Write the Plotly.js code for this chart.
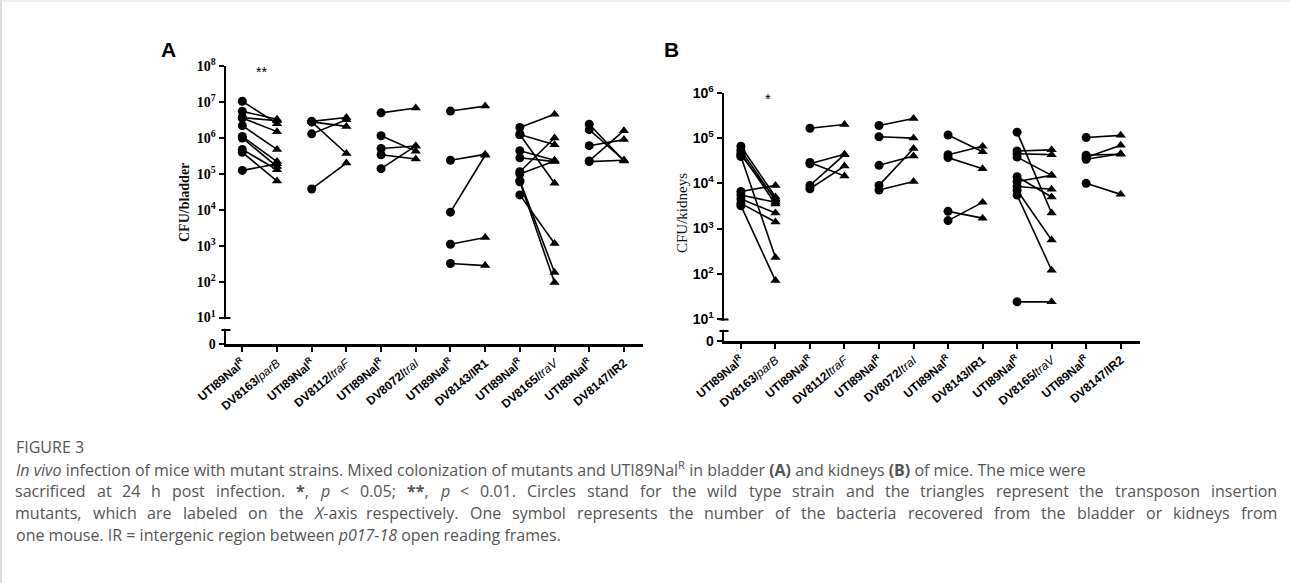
<!DOCTYPE html>
<html>
<head>
<meta charset="utf-8">
<script src="https://cdn.plot.ly/plotly-3.0.1.min.js"></script>
<style>html,body{margin:0;padding:0;background:#fff;}#chart{width:1290px;height:583px;}</style>
</head>
<body>
<div id="chart"></div>
<script>
// ---- categories / tick labels ----
const WT = 'UTI89Nal<sup>R</sup>';
const categories = [
  WT, 'DV8163/<span style="font-weight:normal"><i>parB</i></span>',
  WT, 'DV8112/<span style="font-weight:normal"><i>traF</i></span>',
  WT, 'DV8072/<span style="font-weight:normal"><i>traI</i></span>',
  WT, 'DV8143/IR1',
  WT, 'DV8165/<span style="font-weight:normal"><i>traV</i></span>',
  WT, 'DV8147/IR2'
];

// ---- Panel A: CFU/bladder (wild type circle -> mutant triangle, one pair per mouse) ----
const bladder_parB_wt  = [1.05e7, 5.5e6, 3.7e6, 3.6e6, 2.2e6, 1.1e6, 1.0e6, 4.8e5, 4.0e5, 1.25e5];
const bladder_parB_mut = [2.5e6, 3.3e6, 3.0e6, 1.5e6, 4.8e5, 2.2e5, 1.6e5, 1.3e5, 6.3e4, 1.9e5];
const bladder_traF_wt  = [2.9e6, 2.8e6, 2.8e6, 1.3e6, 3.8e4];
const bladder_traF_mut = [3.7e6, 2.1e6, 3.7e5, 3.2e6, 2.0e5];
const bladder_traI_wt  = [5.0e6, 1.15e6, 5.1e5, 3.4e5, 1.4e5];
const bladder_traI_mut = [6.8e6, 4.3e5, 6.0e5, 2.6e5, 6.0e5];
const bladder_IR1_wt   = [5.6e6, 2.4e5, 8.6e3, 1.1e3, 3.2e2];
const bladder_IR1_mut  = [7.7e6, 3.5e5, 3.3e5, 1.7e3, 2.8e2];
const bladder_traV_wt  = [1.95e6, 1.25e6, 1.25e6, 4.4e5, 2.8e5, 1.15e5, 1.0e5, 6.5e4, 6.0e4, 2.6e4];
const bladder_traV_mut = [4.6e6, 6.5e5, 5.5e4, 2.4e5, 2.2e5, 1.0e6, 2.3e5, 1.8e2, 9.5e1, 1.15e3];
const bladder_IR2_wt   = [2.4e6, 1.7e6, 6.1e5, 2.3e5, 2.2e5];
const bladder_IR2_mut  = [2.3e5, 2.4e5, 9.0e5, 1.6e6, 2.4e5];

// ---- Panel B: CFU/kidneys ----
const kidney_parB_wt  = [6.6e4, 5.4e4, 4.6e4, 3.9e4, 6.6e3, 5.5e3, 4.5e3, 3.6e3, 3.2e3, 4.2e4];
const kidney_parB_mut = [5.0e3, 4.2e3, 3.5e3, 2.3e2, 9.0e3, 3.8e3, 2.2e3, 1.4e3, 7.1e1, 4.5e3];
const kidney_traF_wt  = [1.65e5, 2.9e4, 2.7e4, 9.0e3, 7.6e3];
const kidney_traF_mut = [2.0e5, 1.45e4, 4.4e4, 4.3e4, 2.4e4];
const kidney_traI_wt  = [1.9e5, 1.07e5, 2.5e4, 9.0e3, 7.1e3];
const kidney_traI_mut = [2.7e5, 1.0e5, 4.0e4, 5.9e4, 1.1e4];
const kidney_IR1_wt   = [1.17e5, 4.3e4, 3.7e4, 2.4e3, 1.5e3];
const kidney_IR1_mut  = [5.0e4, 6.6e4, 2.1e4, 1.7e3, 3.8e3];
const kidney_traV_wt  = [1.35e5, 5.2e4, 4.5e4, 3.8e4, 1.4e4, 1.1e4, 8.5e3, 7.0e3, 5.5e3, 2.4e1];
const kidney_traV_mut = [2.2e3, 5.5e4, 4.3e4, 1.5e4, 5.0e3, 1.5e4, 7.4e3, 5.6e2, 1.2e2, 2.4e1];
const kidney_IR2_wt   = [1.03e5, 4.2e4, 3.7e4, 3.4e4, 1.0e4];
const kidney_IR2_mut  = [1.15e5, 4.4e4, 6.9e4, 4.5e4, 5.7e3];

const bladderGroups = [
  [bladder_parB_wt, bladder_parB_mut], [bladder_traF_wt, bladder_traF_mut],
  [bladder_traI_wt, bladder_traI_mut], [bladder_IR1_wt, bladder_IR1_mut],
  [bladder_traV_wt, bladder_traV_mut], [bladder_IR2_wt, bladder_IR2_mut]
];
const kidneyGroups = [
  [kidney_parB_wt, kidney_parB_mut], [kidney_traF_wt, kidney_traF_mut],
  [kidney_traI_wt, kidney_traI_mut], [kidney_IR1_wt, kidney_IR1_mut],
  [kidney_traV_wt, kidney_traV_mut], [kidney_IR2_wt, kidney_IR2_mut]
];

const bladderTicks = [10**0.27, 1e1, 1e2, 1e3, 1e4, 1e5, 1e6, 1e7, 1e8];
const bladderTickText = ['0','10<sup>1</sup>','10<sup>2</sup>','10<sup>3</sup>','10<sup>4</sup>','10<sup>5</sup>','10<sup>6</sup>','10<sup>7</sup>','10<sup>8</sup>'];
const kidneyTicks = [10**0.52, 1e1, 1e2, 1e3, 1e4, 1e5, 1e6];
const kidneyTickText = ['0','10<sup>1</sup>','10<sup>2</sup>','10<sup>3</sup>','10<sup>4</sup>','10<sup>5</sup>','10<sup>6</sup>'];

// ---- helpers ----
const W = 1290, H = 583;
const px = v => v / W;
const py = v => 1 - v / H;

const traces = [];
function addPairs(groups, xa, ya) {
  groups.forEach((g, gi) => {
    const [wt, mut] = g;
    wt.forEach((v, i) => {
      traces.push({
        type: 'scatter', mode: 'lines+markers',
        x: [2 * gi, 2 * gi + 1], y: [v, mut[i]],
        xaxis: xa, yaxis: ya,
        line: {color: '#000', width: 1.6},
        marker: {color: '#000', size: 9, opacity: 1, symbol: ['circle', 'triangle-up'], line: {width: 0}},
        showlegend: false, hoverinfo: 'skip', cliponaxis: false
      });
    });
  });
}
addPairs(bladderGroups, 'x', 'y');
addPairs(kidneyGroups, 'x2', 'y2');

const tickIdx = categories.map((_, i) => i);
const xBase = {
  tickmode: 'array', tickvals: tickIdx, ticktext: categories,
  tickangle: -40, showline: true, linecolor: '#000', linewidth: 2.5,
  ticks: 'outside', ticklen: 5, tickwidth: 2, tickcolor: '#000',
  showgrid: false, zeroline: false,
  tickfont: {family: 'Liberation Sans, Arial, sans-serif', size: 12, color: '#000', weight: 'bold'}
};
const yBase = {
  type: 'log', tickmode: 'array', showline: true, linecolor: '#000', linewidth: 2.5,
  ticks: 'outside', ticklen: 5, tickwidth: 2, tickcolor: '#000',
  showgrid: false, zeroline: false
};

function breakShapes(axX, yTop, yBot) {
  const c = '#000';
  return [
    {type: 'rect', xref: 'paper', yref: 'paper', x0: px(axX - 4), x1: px(axX + 4), y0: py(yBot - 1.2), y1: py(yTop + 1.2),
      fillcolor: '#fff', line: {width: 0}, layer: 'above'},
    {type: 'line', xref: 'paper', yref: 'paper', x0: px(axX - 4.5), x1: px(axX + 4.5), y0: py(yTop), y1: py(yTop),
      line: {color: c, width: 2}, layer: 'above'},
    {type: 'line', xref: 'paper', yref: 'paper', x0: px(axX - 4.5), x1: px(axX + 4.5), y0: py(yBot), y1: py(yBot),
      line: {color: c, width: 2}, layer: 'above'}
  ];
}

// ---- caption ----
const CAP_FAMILY = 'Open Sans';
const CAP_SIZE = 16;
const capFont = {family: CAP_FAMILY + ', Roboto, sans-serif', size: CAP_SIZE, color: '#555'};
const captionLines = [
  '<i>In vivo</i> infection of mice with mutant strains. Mixed colonization of mutants and UTI89Nal<sup>R</sup> in bladder <b>(A)</b> and kidneys <b>(B)</b> of mice. The mice were',
  'sacrificed at 24 h post infection. <b>*</b>, <i>p</i> &lt; 0.05; <b>**</b>, <i>p</i> &lt; 0.01. Circles stand for the wild type strain and the triangles represent the transposon insertion',
  'mutants, which are labeled on the <i>X</i>-axis respectively. One symbol represents the number of the bacteria recovered from the bladder or kidneys from',
  'one mouse. IR = intergenic region between <i>p017-18</i> open reading frames.'
];
const captionJustify = [false, true, true, false];
const captionY = [469, 491, 513, 535];
const CAP_LEFT = 14, CAP_RIGHT = 1276;

const canvas = document.createElement('canvas');
const ctx = canvas.getContext('2d');
function measure(word) {
  const plain = word.replace(/<sup>.*?<\/sup>/g, 'R').replace(/<[^>]+>/g, '').replace(/&lt;/g, '<');
  const italic = /<i>/.test(word), bold = /<b>/.test(word);
  ctx.font = (italic ? 'italic ' : '') + (bold ? 'bold ' : '') + CAP_SIZE + 'px "' + CAP_FAMILY + '"';
  return ctx.measureText(plain).width;
}

const annotations = [
  {text: '<b>A</b>', xref: 'paper', yref: 'paper', x: px(168), y: py(50), xanchor: 'center', yanchor: 'middle', showarrow: false,
    font: {family: 'Liberation Sans, Arial, sans-serif', size: 21, color: '#000'}},
  {text: '<b>B</b>', xref: 'paper', yref: 'paper', x: px(671), y: py(50), xanchor: 'center', yanchor: 'middle', showarrow: false,
    font: {family: 'Liberation Sans, Arial, sans-serif', size: 21, color: '#000'}},
  {text: '<b>CFU/bladder</b>', xref: 'paper', yref: 'paper', x: px(185), y: py(203), xanchor: 'center', yanchor: 'middle', textangle: -90, showarrow: false,
    font: {family: 'Liberation Serif, Times New Roman, serif', size: 14, color: '#111'}},
  {text: 'CFU/kidneys', xref: 'paper', yref: 'paper', x: px(682), y: py(213), xanchor: 'center', yanchor: 'middle', textangle: -90, showarrow: false,
    font: {family: 'Liberation Serif, Times New Roman, serif', size: 15, color: '#111'}},
  {text: '**', xref: 'x', yref: 'paper', x: 0.55, y: py(72), xanchor: 'center', yanchor: 'middle', showarrow: false,
    font: {family: 'Liberation Sans, Arial, sans-serif', size: 14, color: '#000'}},
  {text: '*', xref: 'x2', yref: 'paper', x: 0.78, y: py(99), xanchor: 'center', yanchor: 'middle', showarrow: false,
    font: {family: 'Liberation Sans, Arial, sans-serif', size: 15, color: '#000'}},
  {text: 'FIGURE 3', xref: 'paper', yref: 'paper', x: px(14), y: py(447), xanchor: 'left', yanchor: 'middle', showarrow: false,
    font: {family: CAP_FAMILY + ', Roboto, sans-serif', size: 16, color: '#555'}}
];

captionLines.forEach((t, i) => {
  if (!captionJustify[i]) {
    annotations.push({text: t, xref: 'paper', yref: 'paper', x: px(CAP_LEFT), y: py(captionY[i]),
      xanchor: 'left', yanchor: 'middle', showarrow: false, font: capFont});
    return;
  }
  const words = t.split(' ');
  const widths = words.map(measure);
  const total = widths.reduce((a, b) => a + b, 0);
  const gap = (CAP_RIGHT - CAP_LEFT - total) / (words.length - 1);
  let x = CAP_LEFT;
  words.forEach((w, k) => {
    annotations.push({text: w, xref: 'paper', yref: 'paper', x: px(x), y: py(captionY[i]),
      xanchor: 'left', yanchor: 'middle', showarrow: false, font: capFont, borderpad: 0});
    x += widths[k] + gap;
  });
});

const layout = {
  width: W, height: H,
  margin: {l: 0, r: 0, t: 0, b: 0},
  paper_bgcolor: '#fff', plot_bgcolor: '#fff',
  showlegend: false,
  xaxis: Object.assign({}, xBase, {domain: [px(226), px(643)], range: [-0.47, 11.55], anchor: 'y'}),
  yaxis: Object.assign({}, yBase, {domain: [py(344), py(66)], range: [0.265, 8.003], anchor: 'x',
    tickvals: bladderTicks, ticktext: bladderTickText,
    tickfont: {family: 'Liberation Serif, Times New Roman, serif', size: 14, color: '#000', weight: 'bold'}}),
  xaxis2: Object.assign({}, xBase, {domain: [px(724), px(1140)], range: [-0.49, 11.56], anchor: 'y2'}),
  yaxis2: Object.assign({}, yBase, {domain: [py(341), py(92.7)], range: [0.515, 6.003], anchor: 'x2',
    tickvals: kidneyTicks, ticktext: kidneyTickText,
    tickfont: {family: 'Liberation Sans, Arial, sans-serif', size: 14, color: '#000', weight: 'bold'}}),
  annotations: annotations,
  shapes: [].concat(
    breakShapes(226, 318, 330),
    breakShapes(724, 319.5, 331),
    [
      {type: 'line', xref: 'paper', yref: 'paper', x0: px(1), x1: px(1), y0: 0, y1: 1, line: {color: '#bbb', width: 1}},
      {type: 'line', xref: 'paper', yref: 'paper', x0: 0, x1: 1, y0: py(1), y1: py(1), line: {color: '#ddd', width: 1}}
    ]
  )
};

Plotly.newPlot('chart', traces, layout, {displayModeBar: false, staticPlot: true});
</script>
</body>
</html>
